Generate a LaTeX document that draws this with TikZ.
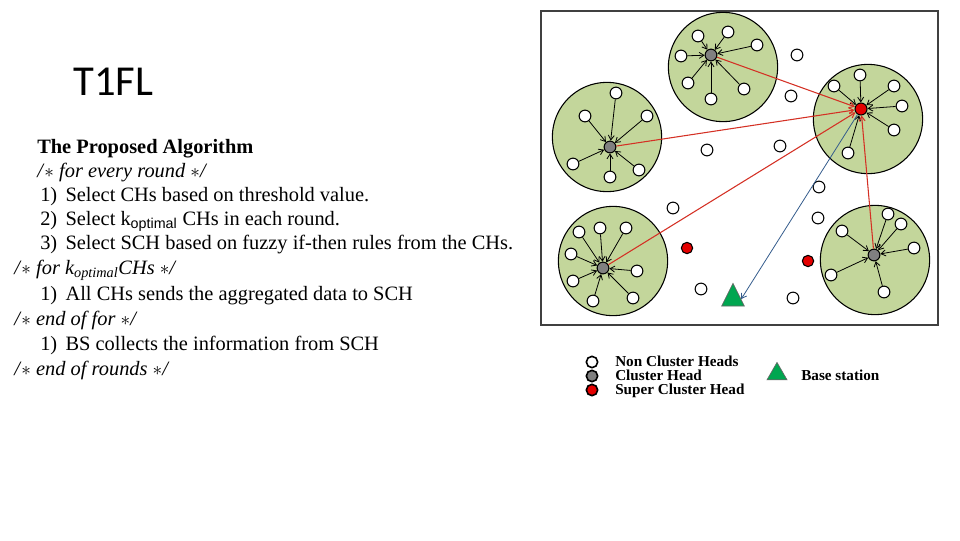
\documentclass[tikz,border=0pt]{standalone}
\usepackage{fontspec}
\setmainfont{Liberation Serif}
\setsansfont{Liberation Sans}
\newfontfamily\slidefont{Carlito}
\usetikzlibrary{arrows.meta, positioning, shapes.geometric}

\definecolor{clustergreen}{RGB}{195,214,155}
\definecolor{headgray}{RGB}{128,128,128}
\definecolor{superred}{RGB}{228,0,0}
\definecolor{basegreen}{RGB}{0,166,80}
\definecolor{arrowred}{RGB}{212,48,36}
\definecolor{arrowblue}{RGB}{52,92,140}

\newcommand{\algnum}[1]{\makebox[19pt][l]{#1}}
\newcommand{\cmt}[1]{\textit{/}$\ast$ \textit{#1} $\ast$\textit{/}}

\begin{document}
\begin{tikzpicture}[x=0.75pt, y=-0.75pt,
  cluster/.style={circle, draw, line width=0.8pt, fill=clustergreen, minimum size=82pt, inner sep=0pt},
  member/.style={circle, draw, line width=0.8pt, fill=white, minimum size=8.8pt, inner sep=0pt},
  head/.style={member, fill=headgray},
  superhead/.style={member, fill=superred, minimum size=9pt},
  bsnode/.style={isosceles triangle, isosceles triangle stretches, shape border rotate=90,
    draw=black!60, line width=0.5pt, fill=basegreen, inner sep=0pt, minimum width=17pt, minimum height=17pt},
  tohead/.style={-{Straight Barb[length=3.5pt,width=4.5pt]}, line width=0.6pt},
  tosuper/.style={tohead, draw=arrowred, line width=0.8pt},
  tobase/.style={tohead, draw=arrowblue},
  algtext/.style={anchor=base west, inner sep=0pt, font=\fontsize{15.3}{17}\selectfont},
  legtext/.style={anchor=base west, inner sep=0pt, font=\bfseries\fontsize{11.4}{13}\selectfont},
  legmark/.style={member, line width=1.2pt, minimum size=8.5pt}]
  \useasboundingbox (0,0) rectangle (960,540);

  % slide title
  \node[anchor=base west, inner sep=0pt, font=\slidefont\fontsize{32}{36}\selectfont] (slidetitle) at (73,95) {T1FL};

  % algorithm
  \node[algtext, font=\bfseries\fontsize{15.3}{17}\selectfont] (algtitle) at (37,153) {The Proposed Algorithm};
  \node[algtext] (l1) at (37,177) {\cmt{for every round}};
  \node[algtext] (l2) at (40,201) {\algnum{1)}Select CHs based on threshold value.};
  \node[algtext] (l3) at (40,225) {\algnum{2)}Select k\textsubscript{\sffamily optimal} CHs in each round.};
  \node[algtext] (l4) at (40,249) {\algnum{3)}Select SCH based on fuzzy if-then rules from the CHs.};
  \node[algtext] (l5) at (14,274) {\cmt{for k\textsubscript{optimal}CHs}};
  \node[algtext] (l6) at (40,300) {\algnum{1)}All CHs sends the aggregated data to SCH};
  \node[algtext] (l7) at (14,325) {\cmt{end of for}};
  \node[algtext] (l8) at (40,350) {\algnum{1)}BS collects the information from SCH};
  \node[algtext] (l9) at (14,375) {\cmt{end of rounds}};

  % network field
  \draw[draw=black!75, line width=1pt] (541,11) rectangle (938,325);
  \node[cluster] (cl1) at (723,67) {};
  \node[cluster] (cl2) at (607,137) {};
  \node[cluster] (cl3) at (868,119) {};
  \node[cluster] (cl4) at (613,261) {};
  \node[cluster] (cl5) at (875,260) {};

  % heads
  \node[head] (h1) at (711,55) {};
  \node[head] (h2) at (610,147) {};
  \node[superhead] (sch) at (861,109) {};
  \node[head] (h4) at (603,268) {};
  \node[head] (h5) at (874,255) {};
  \node[bsnode] (bs) at (733,299) {};

  % cluster members
  \foreach \p [count=\i] in {(698,36),(728,32),(757,45),(681,56),(688,83),(744,89),(711,99)}
    \node[member] (a\i) at \p {};
  \foreach \p [count=\i] in {(616,93),(585,116),(647,116),(573,164),(639,170),(610,177)}
    \node[member] (b\i) at \p {};
  \foreach \p [count=\i] in {(860,75),(834,86),(894,86),(902,106),(894,130),(848,153)}
    \node[member] (c\i) at \p {};
  \foreach \p [count=\i] in {(579,232),(600,228),(626,228),(571,254),(637,271),(573,281),(633,298),(593,301)}
    \node[member] (d\i) at \p {};
  \foreach \p [count=\i] in {(888,214),(901,224),(842,231),(914,248),(831,275),(884,292)}
    \node[member] (e\i) at \p {};

  % nodes outside clusters
  \foreach \p [count=\i] in {(797,55),(791,96),(707,150),(780,146),(819,187),(818,218),(673,208),(701,289),(793,298)}
    \node[member] (n\i) at \p {};
  \node[superhead, minimum size=8.5pt] (r1) at (687,248) {};
  \node[superhead, minimum size=8.5pt] (r2) at (808,261) {};

  % member -> head
  \foreach \i in {1,...,7} \draw[tohead] (a\i) -- (h1);
  \foreach \i in {1,...,6} \draw[tohead] (b\i) -- (h2);
  \foreach \i in {1,...,6} \draw[tohead] (c\i) -- (sch);
  \foreach \i in {1,...,8} \draw[tohead] (d\i) -- (h4);
  \foreach \i in {1,...,6} \draw[tohead] (e\i) -- (h5);

  % head -> super head -> base station
  \foreach \h in {h1,h2,h4,h5} \draw[tosuper] (\h) -- (sch);
  \draw[tobase] (sch) -- (bs.east);

  % legend
  \node[legmark] (lg1) at (592,362) {};
  \node[legmark, fill=headgray] (lg2) at (592,376) {};
  \node[legmark, fill=superred] (lg3) at (592,390) {};
  \node[legtext] (lt1) at (615,366) {Non Cluster Heads};
  \node[legtext] (lt2) at (615,380) {Cluster Head};
  \node[legtext] (lt3) at (615,394) {Super Cluster Head};
  \node[bsnode, minimum width=15pt, minimum height=13pt] (lg4) at (777,374) {};
  \node[legtext] (lt4) at (801,380) {Base station};
\end{tikzpicture}
\end{document}
